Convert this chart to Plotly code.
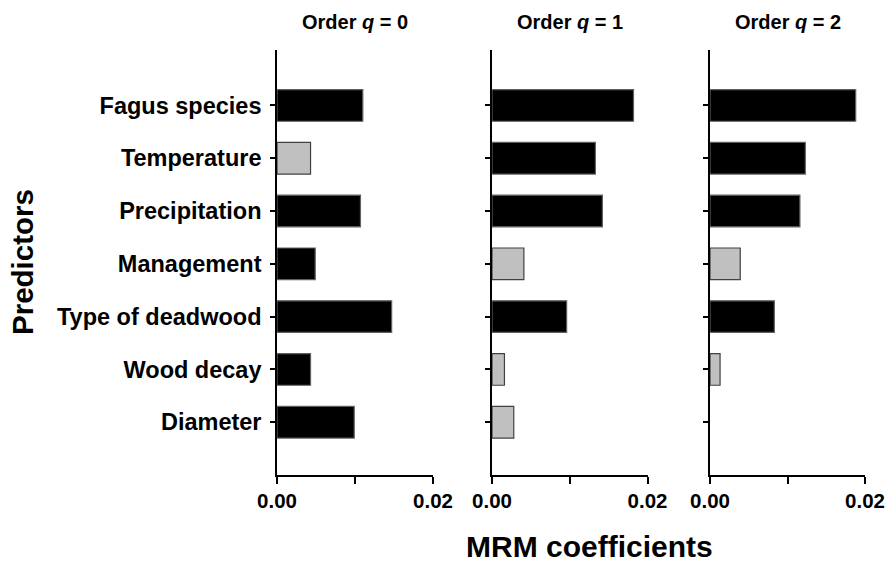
import plotly.graph_objects as go

predictors = ["Fagus species", "Temperature", "Precipitation", "Management",
              "Type of deadwood", "Wood decay", "Diameter"]
orders = ["0", "1", "2"]

coef_q0 = [0.0110, 0.0043, 0.0107, 0.0049, 0.0147, 0.0043, 0.0099]
coef_q1 = [0.0182, 0.0133, 0.0142, 0.0041, 0.0096, 0.0016, 0.0028]
coef_q2 = [0.0188, 0.0123, 0.0116, 0.0039, 0.0083, 0.0013, 0.0]

signif_q0 = [True, False, True, True, True, True, True]
signif_q1 = [True, True, True, False, True, False, False]
signif_q2 = [True, True, True, False, True, False, False]

x_tickvals = [0.0, 0.01, 0.02]
x_ticktext = ["0.00", "", "0.02"]

FONT = "Liberation Sans, Arial, sans-serif"
W, H = 893, 562


def px(x):
    return x / W


def py(y):
    return 1 - y / H


# category positions: first predictor at top
ypos = list(range(len(predictors) - 1, -1, -1))

fig = go.Figure()
domains = [[px(277), px(433)], [px(492), px(647.5)], [px(710), px(865)]]
ydom = [py(475), py(50)]

for i, (vals, sig) in enumerate(zip([coef_q0, coef_q1, coef_q2],
                                    [signif_q0, signif_q1, signif_q2])):
    xa = "x" if i == 0 else f"x{i+1}"
    ya = "y" if i == 0 else f"y{i+1}"
    fig.add_trace(go.Bar(
        x=vals, y=ypos, orientation="h", xaxis=xa, yaxis=ya,
        width=0.6,
        marker=dict(color=["#000000" if s else "#c0c0c0" for s in sig],
                    line=dict(color=["#606060" if s else "#404040" for s in sig],
                              width=[1.2 if v > 0 else 0 for v in vals])),
        showlegend=False, hoverinfo="x+y",
    ))
    xkey = "xaxis" if i == 0 else f"xaxis{i+1}"
    ykey = "yaxis" if i == 0 else f"yaxis{i+1}"
    fig.layout[xkey] = dict(
        domain=domains[i], range=[0, 0.02], anchor=ya, automargin=False,
        showline=True, linecolor="black", linewidth=1.6,
        showgrid=False, zeroline=False,
        ticks="outside", ticklen=7, tickwidth=1.6, tickcolor="black",
        tickvals=x_tickvals, ticktext=x_ticktext,
        tickfont=dict(family=FONT, size=20.5, color="black", weight="bold"),
    )
    fig.layout[ykey] = dict(
        domain=ydom, range=[-1, 7.05], anchor=xa, automargin=False,
        showline=True, linecolor="black", linewidth=1.6,
        showgrid=False, zeroline=False,
        ticks="outside", ticklen=5, tickwidth=1.6, tickcolor="black",
        tickvals=ypos, ticktext=predictors if i == 0 else [""] * len(predictors),
        showticklabels=(i == 0), ticklabelstandoff=4,
        tickfont=dict(family=FONT, size=23.5, color="black", weight="bold"),
    )
    cx = (domains[i][0] + domains[i][1]) / 2
    fig.add_annotation(
        text=f"Order <i>q</i> = {orders[i]}", x=cx, y=py(22),
        xref="paper", yref="paper", showarrow=False,
        xanchor="center", yanchor="middle",
        font=dict(family=FONT, size=20, color="black", weight="bold"),
    )

fig.add_annotation(
    text="Predictors", x=px(23), y=py(262), xref="paper", yref="paper",
    showarrow=False, textangle=-90, xanchor="center", yanchor="middle",
    font=dict(family=FONT, size=29.5, color="black", weight="bold"),
)
fig.add_annotation(
    text="MRM coefficients", x=px(589), y=py(546), xref="paper", yref="paper",
    showarrow=False, xanchor="center", yanchor="middle",
    font=dict(family=FONT, size=30, color="black", weight="bold"),
)

fig.update_layout(
    width=W, height=H, margin=dict(l=0, r=0, t=0, b=0, autoexpand=False),
    plot_bgcolor="white", paper_bgcolor="white",
    bargap=0.4,
)

fig.write_html(
    "out.html",
    config={"displayModeBar": False},
    post_script="document.body.style.margin='0';document.body.style.overflow='hidden';",
)
